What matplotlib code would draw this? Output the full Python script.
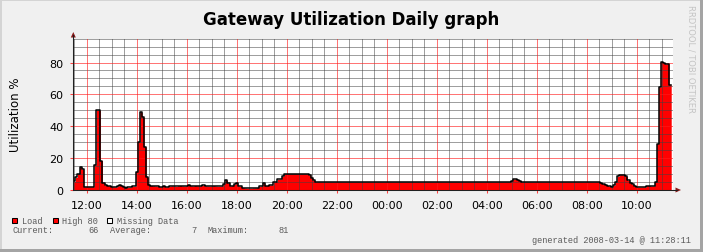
import matplotlib
matplotlib.use('Agg')
import matplotlib.pyplot as plt
import numpy as np
from matplotlib.patches import Rectangle, Polygon
from matplotlib.lines import Line2D

W, H = 703, 253

# ---- data (5-minute samples, starting 11:28) ----
load_1128_1728 = [
    5.4, 7.9, 10.2, 14.4, 12.9, 2.0, 2.0, 2.0, 2.0, 2.0, 15.8, 50.0,
    50.0, 18.5, 4.6, 3.0, 2.8, 2.6, 2.0, 1.9, 1.8, 2.5, 3.2, 2.5,
    1.8, 1.5, 1.6, 1.8, 2.2, 2.2, 11.5, 30.0, 48.7, 45.5, 27.0, 8.0,
    3.3, 2.8, 2.6, 2.4, 2.2, 2.0, 2.0, 2.2, 1.9, 2.0, 2.3, 2.5,
    2.4, 2.2, 2.6, 2.8, 2.5, 2.4, 2.7, 3.0, 2.6, 2.4, 2.8, 2.6,
    2.5, 2.7, 2.9, 2.6, 2.4, 2.3, 2.5, 2.7, 2.4, 2.2, 2.3, 2.6,
]
load_1728_2328 = [
    4.0, 6.2, 4.4, 2.5, 2.8, 3.5, 4.5, 2.5, 2.2, 1.5, 1.2, 1.0,
    1.0, 1.0, 1.2, 1.3, 1.5, 2.2, 2.5, 4.2, 2.8, 2.8, 3.0, 3.2,
    4.8, 5.2, 6.7, 6.8, 8.5, 10.2, 10.2, 10.2, 10.2, 10.2, 10.2, 10.2,
    10.2, 10.2, 10.2, 10.2, 10.2, 9.2, 7.5, 6.0, 5.0, 5.0, 5.0, 5.0,
    5.0, 5.0, 5.0, 5.0, 5.0, 5.0, 5.0, 5.0, 5.0, 5.0, 5.0, 5.0,
    5.0, 5.0, 5.0, 5.0, 5.0, 5.0, 5.0, 5.0, 5.0, 5.0, 5.0, 5.0,
]
load_2328_0528 = [
    5.0, 5.0, 5.0, 5.0, 5.0, 5.0, 5.0, 5.0, 5.0, 5.0, 5.0, 5.0,
    5.0, 5.0, 5.0, 5.0, 5.0, 5.0, 5.0, 5.0, 5.0, 5.0, 5.0, 5.0,
    5.0, 5.0, 5.0, 5.0, 5.0, 5.0, 5.0, 5.0, 5.0, 5.0, 5.0, 5.0,
    5.0, 5.0, 5.0, 5.0, 5.0, 5.0, 5.0, 5.0, 5.0, 5.0, 5.0, 5.0,
    5.0, 5.0, 5.0, 5.0, 5.0, 5.0, 5.0, 5.0, 5.0, 5.0, 5.0, 5.0,
    5.0, 5.0, 5.0, 5.0, 5.0, 5.0, 5.8, 6.8, 7.0, 6.5, 5.6, 5.0,
]
load_0528_1128 = [
    5.0, 5.0, 5.0, 5.0, 5.0, 5.0, 5.0, 5.0, 5.0, 5.0, 5.0, 5.0,
    5.0, 5.0, 5.0, 5.0, 5.0, 5.0, 5.0, 5.0, 5.0, 5.0, 5.0, 5.0,
    5.0, 5.0, 5.0, 5.0, 5.0, 5.0, 5.0, 5.0, 5.0, 5.0, 5.0, 5.0,
    5.0, 4.6, 4.0, 3.4, 2.8, 2.3, 1.9, 2.9, 5.0, 8.5, 9.6, 9.6,
    9.3, 8.5, 6.0, 4.5, 3.5, 2.5, 1.8, 1.8, 1.8, 1.9, 1.9, 2.8,
    2.8, 2.5, 2.5, 5.0, 29.0, 64.4, 80.5, 79.6, 79.0, 79.3, 66.0,
]
tick_labels = ['12:00', '14:00', '16:00', '18:00', '20:00', '22:00',
               '00:00', '02:00', '04:00', '06:00', '08:00', '10:00']
y_ticks = [0, 20, 40, 60, 80]
high_threshold = 80
stat_current, stat_average, stat_maximum = 66, 7, 81

title = 'Gateway Utilization Daily graph'
ylabel = 'Utilization %'
generated = 'generated 2008-03-14 @ 11:28:11'
credit = 'RRDTOOL / TOBI OETIKER'

# ---- figure ----
fig = plt.figure(figsize=(W / 100, H / 100), dpi=100)
fig.patch.set_facecolor('#f0f0f0')

def P(x, y):
    return (x / W, 1 - y / H)

x0, x1 = 73.3, 673.3
y0, y1 = 191.0, 39.6
ax = fig.add_axes([x0 / W, (H - y0) / H, (x1 - x0) / W, (y0 - y1) / H])
ax.set_facecolor('white')

step = 5  # minutes
load = np.array(load_1128_1728 + load_1728_2328 + load_2328_0528 + load_0528_1128)
t = np.arange(len(load) + 1) * step
vals = np.append(load, load[-1])

ax.fill_between(t, 0, vals, step='post', color='#ff0000', lw=0, zorder=1)
ax.fill_between(t, 0, vals, where=vals >= high_threshold, step='post',
                color='#ff0000', lw=0, zorder=1)
ax.step(t, vals, where='post', color='black', lw=1.1, zorder=4)

ax.set_xlim(0, 1440)
ax.set_ylim(0, 95)

major_x = 32 + 120 * np.arange(len(tick_labels))
minor_x = [m for m in 2 + 30 * np.arange(48) if m not in set(major_x)]
minor_y = [v for v in range(5, 100, 5) if v not in y_ticks]

minor_c = (0.25, 0.25, 0.25, 0.5)
major_c = (1, 0.1, 0.1, 0.6)
for m in minor_x:
    ax.axvline(m, color=minor_c, lw=0.72, zorder=3)
for v in minor_y:
    ax.axhline(v, color=minor_c, lw=0.72, zorder=3)
for m in major_x:
    ax.axvline(m, color=major_c, lw=0.72, zorder=3)
for v in y_ticks[1:]:
    ax.axhline(v, color=major_c, lw=0.72, zorder=3)

ax.set_xticks(major_x)
ax.set_xticklabels(tick_labels)
ax.set_yticks(y_ticks)
ax.set_yticklabels([str(v) for v in y_ticks])
ax.tick_params(axis='x', length=2.5, width=0.75, color='#ff4040', pad=4.5,
               labelsize=8)
ax.tick_params(axis='y', length=2.5, width=0.75, color='#ff4040', pad=4.5,
               labelsize=8)
for s in ['top', 'right']:
    ax.spines[s].set_visible(False)
for s in ['left', 'bottom']:
    ax.spines[s].set_color('#202020')
    ax.spines[s].set_linewidth(0.75)
    ax.spines[s].set_zorder(5)

# axis extensions + arrows
arrow_c = '#8b1a1a'
fig.add_artist(Line2D(*zip(P(x0, y1), P(x0, 36)), color='#202020', lw=0.75))
fig.add_artist(Line2D(*zip(P(x1, y0), P(677, y0)), color='#202020', lw=0.75))
fig.add_artist(Polygon([P(70.8, 38.5), P(75.8, 38.5), P(73.3, 33)],
                       closed=True, color=arrow_c, lw=0))
fig.add_artist(Polygon([P(675.5, y0 - 2.5), P(675.5, y0 + 2.5), P(681, y0)],
                       closed=True, color=arrow_c, lw=0))

# texts
fig.text(*P(351.5, 20), title, ha='center', va='center', fontsize=12,
         fontweight='bold', family='DejaVu Sans')
fig.text(*P(16, 115), ylabel, ha='center', va='center', rotation=90,
         fontsize=8.5, family='DejaVu Sans')
fig.text(*P(690.5, 59), credit, ha='center', va='center', rotation=270,
         fontsize=6, color='#c4c4c4', family='DejaVu Sans')

mono = dict(family='Liberation Mono', fontsize=6.2, color='#5a5a5a', va='center')
ly = 221.5
for bx, face, lab, tx in [(12.3, '#ff0000', 'Load', 22),
                          (53.3, '#ff0000', 'High 80', 61.7),
                          (107.3, 'white', 'Missing Data', 116.7)]:
    fx, fy = P(bx, ly + 2.5)
    fig.add_artist(Rectangle((fx, fy), 5 / W, 5 / H, facecolor=face,
                             edgecolor='black', lw=0.75))
    fig.text(*P(tx, ly), lab, ha='left', **mono)

sy = 230.5
fig.text(*P(12, sy), 'Current:', ha='left', **mono)
fig.text(*P(98.5, sy), f'{stat_current}', ha='right', **mono)
fig.text(*P(110, sy), 'Average:', ha='left', **mono)
fig.text(*P(196.5, sy), f'{stat_average}', ha='right', **mono)
fig.text(*P(207.3, sy), 'Maximum:', ha='left', **mono)
fig.text(*P(289, sy), f'{stat_maximum}', ha='right', **mono)
fig.text(*P(691, 240.5), generated, ha='right', **mono)

# frame of the image
fig.add_artist(Rectangle((0, 1 - 2 / H), 1, 2 / H, facecolor='#d4d4d4', lw=0))
fig.add_artist(Rectangle((0, 0), 2 / W, 1, facecolor='#d4d4d4', lw=0))
fig.add_artist(Rectangle((0, 0), 1, 3 / H, facecolor='#a4a4a4', lw=0))
fig.add_artist(Rectangle((1 - 3 / W, 0), 3 / W, 1, facecolor='#a4a4a4', lw=0))

fig.savefig('out.png', dpi=100, facecolor=fig.get_facecolor())
